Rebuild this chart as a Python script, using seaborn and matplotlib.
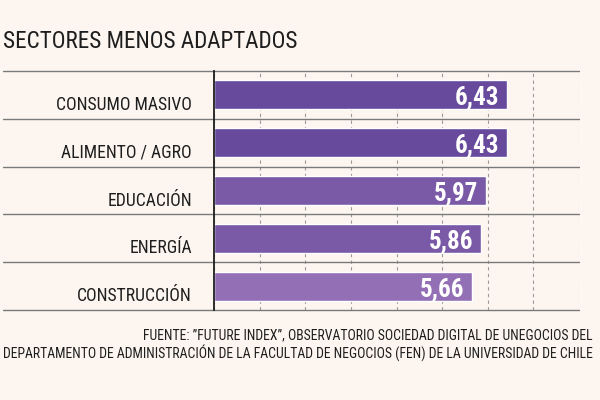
#!/usr/bin/env python3

import matplotlib
matplotlib.use("Agg")
import matplotlib.pyplot as plt
import matplotlib.transforms as mtransforms
import seaborn as sns
import numpy as np

# Data
sectors = ["CONSUMO MASIVO", "ALIMENTO / AGRO", "EDUCACIÓN", "ENERGÍA", "CONSTRUCCIÓN"]
scores = [6.43, 6.43, 5.97, 5.86, 5.66]
bar_colors = ["#674a9c", "#674a9c", "#7a59a7", "#7a59a7", "#9370b5"]

title = "SECTORES MENOS ADAPTADOS"
source_lines = [
    "FUENTE: \u201dFUTURE INDEX\u201d, OBSERVATORIO SOCIEDAD DIGITAL DE UNEGOCIOS DEL",
    "DEPARTAMENTO DE ADMINISTRACIÓN DE LA FACULTAD DE NEGOCIOS (FEN) DE LA UNIVERSIDAD DE CHILE",
]

BG = "#fdf6f0"
INK = "#1e1e1e"

sns.set_style("white")
plt.rcParams['font.family'] = ['Roboto Condensed', 'Roboto', 'DejaVu Sans']

fig = plt.figure(figsize=(6, 4), dpi=100, facecolor=BG)
ax = fig.add_axes([214 / 600, 1 - 310 / 400, 365 / 600, 239 / 400])
ax.set_facecolor(BG)

sns.barplot(x=scores, y=sectors, hue=sectors, palette=bar_colors, legend=False,
            orient="h", width=0.61, saturation=1, ax=ax, zorder=3)

ax.set_xlim(0, 8)
ax.set_ylim(len(sectors) - 0.5, -0.5)
ax.set_xticks(range(0, 9))
ax.set_xticklabels([])
ax.tick_params(axis="both", length=0)
ax.tick_params(axis="y", pad=16, labelsize=12.7, labelcolor=INK)
ax.xaxis.grid(True, linestyle=(0, (3, 3)), color="#9a9a9a", linewidth=0.8, zorder=1)
ax.set_xlabel("")
ax.set_ylabel("")

for side in ["top", "right", "bottom"]:
    ax.spines[side].set_visible(False)
ax.spines["left"].set_color(INK)
ax.spines["left"].set_linewidth(1.3)
ax.spines["left"].set_zorder(5)

# shift category labels a bit down, as in the original
shift = mtransforms.ScaledTranslation(0, -8 / 100, fig.dpi_scale_trans)
for lbl in ax.get_yticklabels():
    lbl.set_transform(lbl.get_transform() + shift)

# row separators running under the labels too
trans = ax.get_yaxis_transform()
x0 = (3 - 214) / 365
for y in np.arange(-0.5, len(sectors), 1.0):
    ax.plot([x0, 1], [y, y], transform=trans, color="#7a7a7a", lw=1.0,
            clip_on=False, zorder=2)

# value labels inside the bar ends
for i, v in enumerate(scores):
    ax.annotate(f"{v:.2f}".replace(".", ","), xy=(v, i), xytext=(-6, -2),
                textcoords="offset points", ha="right", va="center",
                color="white", fontsize=18, fontweight="bold", zorder=6)

fig.text(3 / 600, 1 - 42 / 400, title, fontsize=16.7, color=INK, ha="left", va="center")
fig.text(593 / 600, 1 - 335 / 400, source_lines[0], fontsize=9.9, color=INK,
         ha="right", va="center")
fig.text(593 / 600, 1 - 353 / 400, source_lines[1], fontsize=9.9, color=INK,
         ha="right", va="center")

fig.savefig("out.png", dpi=100, facecolor=BG)
